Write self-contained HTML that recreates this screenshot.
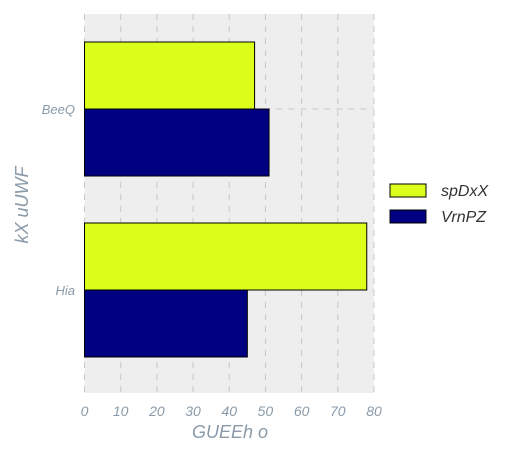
<!DOCTYPE html>
<html><head><meta charset="utf-8"><style>
body{margin:0;background:#fff;}
svg{display:block;font-family:"Liberation Sans",sans-serif;font-style:italic;}
</style></head><body>
<svg id="c" width="532" height="456"></svg>
<script>
const categories=["BeeQ","Hia"];
const seriesNames=["spDxX","VrnPZ"];
const seriesA=[47,78];
const seriesB=[51,45];
const xTicks=[0,10,20,30,40,50,60,70,80];
const colors=["#dbff1a","#000080"];
const NS="http://www.w3.org/2000/svg";
const svg=document.getElementById('c');
const L=84.5,R=374,T=14,B=393;
const x=v=>L+(v/80)*(R-L);
const yc=i=>109+i*181;
function mk(t,a,p){const e=document.createElementNS(NS,t);for(const k in a)e.setAttribute(k,a[k]);(p||svg).appendChild(e);return e;}
const bg=mk('rect',{x:L,y:T,width:R-L,height:B-T,fill:'#eeeeee'});


xTicks.forEach(t=>{
 const g=mk('line',{x1:x(t),x2:x(t),y1:T,y2:B,stroke:'#c8c8c8','stroke-dasharray':'6,6','stroke-width':1});
 
 
 const tx=mk('text',{x:x(t),y:416,'text-anchor':'middle','font-size':14,fill:'#8a9aa8'});
 tx.textContent=t;
 
 
});
categories.forEach((c,i)=>{
 const g=mk('line',{x1:L,x2:R,y1:yc(i),y2:yc(i),stroke:'#c8c8c8','stroke-dasharray':'6,6'});
 
 
 const tx=mk('text',{x:75,y:yc(i)+5,'text-anchor':'end','font-size':13,fill:'#8a9aa8'});
 tx.textContent=c;
 
 
});
const h=67;
categories.forEach((c,i)=>{
 const a=mk('rect',{x:x(0),y:yc(i)-h,width:x(seriesA[i])-x(0),height:h,fill:colors[0],stroke:'#000','stroke-width':1});
 
 
 const b=mk('rect',{x:x(0),y:yc(i),width:x(seriesB[i])-x(0),height:h,fill:colors[1],stroke:'#000','stroke-width':1});
 
 
});
const xl=mk('text',{x:230,y:438,'text-anchor':'middle','font-size':18,fill:'#8a9aa8'});
xl.textContent="GUEEh o";


const yl=mk('text',{x:28,y:205,'text-anchor':'middle','font-size':18,fill:'#8a9aa8',transform:'rotate(-90 28 205)'});
yl.textContent="kX uUWF";


seriesNames.forEach((n,i)=>{
 const r=mk('rect',{x:390,y:184+i*26,width:36,height:13,fill:colors[i],stroke:'#000'});
 
 
 const t=mk('text',{x:441,y:196+i*26,'font-size':16,fill:'#333'});
 t.textContent=n;
 
 
});
</script>
</body></html>
